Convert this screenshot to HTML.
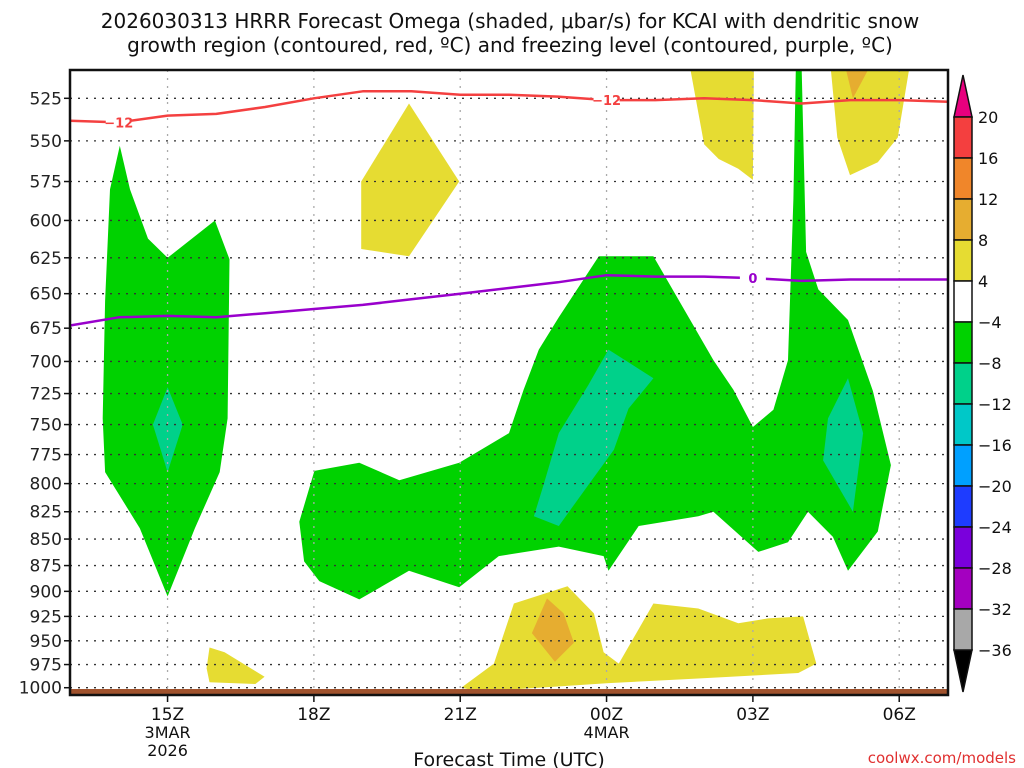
<!DOCTYPE html>
<html><head><meta charset="utf-8"><style>
body{margin:0;background:#fff;}
svg{display:block;font-family:"DejaVu Sans","Liberation Sans",sans-serif;}
</style></head><body>
<svg id="chart" width="1024" height="768" viewBox="0 0 1024 768" xmlns="http://www.w3.org/2000/svg">
<rect width="1024" height="768" fill="#fff"/>
<text x="510" y="28" font-size="20" text-anchor="middle" fill="#111">2026030313 HRRR Forecast Omega (shaded, μbar/s) for KCAI with dendritic snow</text>
<text x="510" y="52" font-size="20" text-anchor="middle" fill="#111">growth region (contoured, red, ºC) and freezing level (contoured, purple, ºC)</text>
<g id="shade"></g>
<g id="grid"></g>
<g id="lines"></g>
<g id="axes"></g>
<g id="cbar"></g>
<text x="509" y="766" font-size="19" text-anchor="middle" fill="#111">Forecast Time (UTC)</text>
<text x="1016" y="763" font-size="15" text-anchor="end" fill="#e03030">coolwx.com/models</text>
</svg>
<script>
// ---- data ----
const pressureTicks=[525,550,575,600,625,650,675,700,725,750,775,800,825,850,875,900,925,950,975,1000];
const timeTickHours=[2,5,8,11,14,17];
const timeTickLabels=["15Z","18Z","21Z","00Z","03Z","06Z"];
const dateLabels={0:["3MAR","2026"],3:["4MAR"]};
const lineHours=[0,1,2,3,4,5,6,7,8,9,10,11,12,13,14,15,16,17,18];
const dgzMinus12=[538,539,535,534,530,525,521,521,523,523,524,526,526,525,526,528,526,526,527];
const freezing0=[673,667,666,667,664,661,658,654,650,646,642,637,638,638,639,641,640,640,640];
const cbarLevels=[20,16,12,8,4,-4,-8,-12,-16,-20,-24,-28,-32,-36];
const cbarColors=["#f43f3f","#f0862a","#e6ad30","#e6dc32","#ffffff","#00d200","#00d18a","#00c8c8","#00a0ff","#1e3cff","#7a00dc","#a400c0","#a8a8a8"];
// shaded omega regions: [color, [hour,pressure]...]
const greenLeft=[[0.67,745],[0.72,655],[0.82,580],[1.02,553],[1.23,580],[1.6,612],[2.0,625],[2.97,600],[3.27,626],[3.23,745],[3.07,790],[2.56,840],[2.0,905],[1.43,840],[0.72,790]];
const tealLeft=[[2.0,720],[2.31,750],[2.0,790],[1.7,750]];
const greenMain=[[4.7,834],[5.01,789],[5.93,782],[6.75,797],[7.98,782],[9.0,757],[9.3,722],[9.61,691],[10.02,667],[10.84,624],[11.96,624],[13.19,699],[13.6,722],[14.0,752],[14.42,738],[14.72,699],[14.83,586],[14.88,509],[15.0,509],[15.09,621],[15.34,647],[15.95,669],[16.46,723],[16.83,784],[16.56,843],[15.95,880],[15.64,848],[15.13,825],[14.72,853],[14.11,862],[13.19,825],[12.88,829],[11.66,838],[11.04,880],[10.94,866],[10.02,857],[8.79,866],[7.98,896],[6.95,880],[5.93,908],[5.11,890],[4.8,871]];
const tealMid=[[9.51,829],[9.71,801],[10.02,757],[10.63,718],[11.04,691],[11.96,713],[11.45,737],[11.15,771],[10.63,801],[10.02,838]];
const tealRight=[[15.95,713],[16.26,757],[16.05,825],[15.44,780],[15.54,745]];
const yellowTopMid=[[5.97,575],[6.95,528],[7.98,575],[6.95,624],[5.97,619]];
const yellowTopR1=[[12.72,509],[14.02,509],[14.0,574],[13.7,567],[13.3,561],[13.0,552]];
const yellowTopR2=[[15.6,509],[17.2,509],[16.97,548],[16.56,563],[15.99,571],[15.73,548]];
const orangeTop=[[15.91,509],[16.36,509],[16.05,525]];
const yellowBottom=[[8.02,1000],[8.69,974],[9.1,912],[10.2,895],[10.74,922],[10.94,962],[11.25,974],[11.96,912],[12.88,917],[13.7,932],[14.31,927],[15.03,925],[15.3,974],[14.93,984],[12.88,990],[11.04,995],[9.61,1000],[8.4,1004]];
const orangeBottom=[[9.78,907],[10.12,922],[10.33,952],[9.94,972],[9.47,942]];
const yellowSmall=[[2.86,957],[3.17,962],[3.99,988],[3.8,996],[2.86,994],[2.8,979]];
// ---- axes ----
const X0=70,X1=948,Y0=70,Y1=695,H0=0,H1=18;
const P_TOP=509,P_BOT=1008;
function xs(h){return X0+(h-H0)/(H1-H0)*(X1-X0);}
function ys(p){return Y0+Math.log(p/P_TOP)/Math.log(P_BOT/P_TOP)*(Y1-Y0);}
const NS="http://www.w3.org/2000/svg";
function mk(tag,attrs,parent){const e=document.createElementNS(NS,tag);for(const k in attrs)e.setAttribute(k,attrs[k]);parent.appendChild(e);return e;}
const shade=document.getElementById('shade'),grid=document.getElementById('grid'),lines=document.getElementById('lines'),axes=document.getElementById('axes'),cbar=document.getElementById('cbar');
function poly(pts,color,name){
  const e=mk('polygon',{points:pts.map(p=>xs(p[0]).toFixed(1)+','+ys(p[1]).toFixed(1)).join(' '),fill:color},shade);
  
  
}
poly(greenLeft,"#00d200","omega-region-green-left");
poly(tealLeft,"#00d18a","omega-region-teal-left");
poly(greenMain,"#00d200","omega-region-green-main");
poly(tealMid,"#00d18a","omega-region-teal-mid");
poly(tealRight,"#00d18a","omega-region-teal-right");
poly(yellowTopMid,"#e6dc32","omega-region-yellow-top-mid");
poly(yellowTopR1,"#e6dc32","omega-region-yellow-top-right1");
poly(yellowTopR2,"#e6dc32","omega-region-yellow-top-right2");
poly(orangeTop,"#e6ad30","omega-region-orange-top");
poly(yellowBottom,"#e6dc32","omega-region-yellow-bottom");
poly(orangeBottom,"#e6ad30","omega-region-orange-bottom");
poly(yellowSmall,"#e6dc32","omega-region-yellow-small");
// ground
const g=mk('rect',{x:X0,y:689,width:X1-X0,height:Y1-689,fill:"#a0522d"},shade);


// grid + y labels
pressureTicks.forEach(p=>{
  const y=ys(p);
  const l=mk('line',{x1:X0,x2:X1,y1:y,y2:y,stroke:"#333","stroke-width":1.3,"stroke-dasharray":"2,6"},grid);
  
  
  const t=mk('line',{x1:X0-6,x2:X0,y1:y,y2:y,stroke:"#111","stroke-width":1.5},axes);
  
  
  const tx=mk('text',{x:X0-8,y:y+6,"font-size":17,"text-anchor":"end",fill:"#222"},axes);
  tx.textContent=p;
  
  
});
timeTickHours.forEach((h,i)=>{
  const x=xs(h);
  const l=mk('line',{x1:x,x2:x,y1:Y0,y2:Y1,stroke:"#aaa","stroke-width":1.3,"stroke-dasharray":"2,6"},grid);
  
  
  const t=mk('line',{x1:x,x2:x,y1:Y1,y2:Y1+7,stroke:"#111","stroke-width":1.5},axes);
  
  
  const tx=mk('text',{x:x,y:720,"font-size":17,"text-anchor":"middle",fill:"#111"},axes);
  tx.textContent=timeTickLabels[i];
  
  
  (dateLabels[i]||[]).forEach((s,j)=>{
    const d=mk('text',{x:x,y:738+j*18,"font-size":16,"text-anchor":"middle",fill:"#111"},axes);
    d.textContent=s;
    
    
  });
});
// contour lines
function cline(vals,color,name){
  const e=mk('polyline',{points:lineHours.map((h,i)=>xs(h).toFixed(1)+','+ys(vals[i]).toFixed(1)).join(' '),fill:"none",stroke:color,"stroke-width":2.5,"stroke-linejoin":"round"},lines);
  
  
}
cline(dgzMinus12,"#f44040","dgz-minus12-contour");
cline(freezing0,"#9900cc","freezing-level-contour");
function clab(h,vals,txt,color,name){
  const i=Math.floor(h),f=h-i;const p=vals[i]+(vals[i+1]-vals[i])*f;
  const x=xs(h),y=ys(p);
  const r=mk('rect',{x:x-13,y:y-8,width:26,height:16,fill:"#fff"},lines);
  
  
  const t=mk('text',{x:x,y:y+5,"font-size":13,"font-weight":"bold","text-anchor":"middle",fill:color},lines);
  t.textContent=txt;
  
  
}
clab(1.0,dgzMinus12,"−12","#f44040","contour-label-minus12-a");
clab(11.0,dgzMinus12,"−12","#f44040","contour-label-minus12-b");
clab(14.0,freezing0,"0","#9900cc","contour-label-zero");
// frame
const fr=mk('rect',{x:X0,y:Y0,width:X1-X0,height:Y1-Y0,fill:"none",stroke:"#111","stroke-width":2.5},axes);


// colorbar
const CX=954,CW=18,CT=117,CB=650;
const step=(CB-CT)/(cbarLevels.length-1);
const tri=mk('polygon',{points:`${CX},${CT} ${CX+CW},${CT} ${CX+CW/2},${CT-42}`,fill:"#e8007e",stroke:"#111","stroke-width":1.5},cbar);


const tri2=mk('polygon',{points:`${CX},${CB} ${CX+CW},${CB} ${CX+CW/2},${CB+42}`,fill:"#000",stroke:"#111","stroke-width":1.5},cbar);


cbarColors.forEach((c,i)=>{
  const r=mk('rect',{x:CX,y:CT+i*step,width:CW,height:step,fill:c,stroke:"#111","stroke-width":1.5},cbar);
  
  
});
cbarLevels.forEach((v,i)=>{
  const t=mk('text',{x:CX+CW+6,y:CT+i*step+6,"font-size":16,fill:"#111"},cbar);
  t.textContent=(v<0?"−":"")+Math.abs(v);
  
  
});
</script>
</body></html>
